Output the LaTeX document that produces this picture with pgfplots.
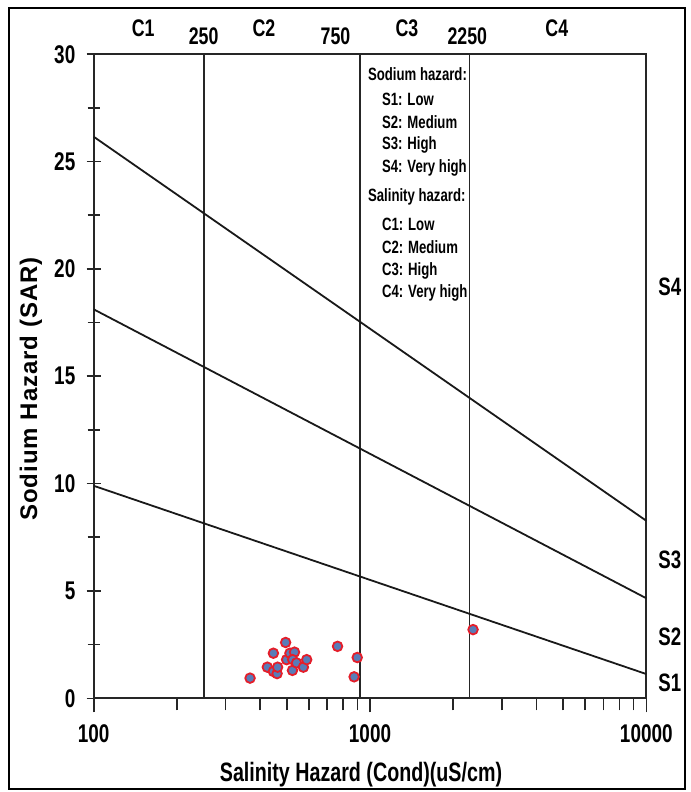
\documentclass[border=0pt]{standalone}
\usepackage{fontspec}
\setmainfont{Liberation Sans}
\newfontfamily\nb{Liberation Sans}[FakeStretch=0.74]
\usepackage{pgfplots}
\pgfplotsset{compat=1.18}
\definecolor{ptblue}{RGB}{88,124,184}
\definecolor{ptred}{RGB}{228,30,42}
\newcommand{\tlf}{\nb\bfseries\fontsize{12.8bp}{12.8bp}\selectfont}
\newcommand{\clf}{\nb\bfseries\fontsize{12bp}{12bp}\selectfont}
\newcommand{\slf}{\nb\bfseries\fontsize{12.6bp}{12.6bp}\selectfont}
\newcommand{\lgf}{\nb\bfseries\fontsize{8.9bp}{8.9bp}\selectfont}
\begin{document}
\begin{tikzpicture}
\useasboundingbox (0,0) rectangle (345.5bp,396bp);
\begin{axis}[
  xmode=log, scale only axis, width=276.3bp, height=322bp,
  at={(46.85bp,46.85bp)}, anchor=south west,
  xmin=100, xmax=10000, ymin=0, ymax=30,
  xtick={100,1000,10000}, xticklabels={100,1000,10000},
  minor xtick={200,300,400,500,600,700,800,900,2000,3000,4000,5000,6000,7000,8000,9000},
  ytick={0,5,10,15,20,25,30}, yticklabels={0,5,10,15,20,25,30},
  minor ytick={2.5,7.5,12.5,17.5,22.5,27.5},
  xtick pos=bottom, ytick pos=left,
  xtick align=outside, ytick align=center,
  major tick length=7bp, minor tick length=6bp,
  axis line style={line width=1bp, black!85},
  tick style={line width=0.8bp, black!85},
  xticklabel style={font=\tlf, inner sep=0pt, anchor=north, yshift=-6bp},
  yticklabel style={font=\tlf, inner sep=0pt, anchor=east, xshift=-5.5bp},
  clip=false,
]
\addplot[line width=0.9bp, black!85] coordinates {(250,0) (250,30)};
\addplot[line width=0.9bp, black!85] coordinates {(919,0) (919,30)};
\addplot[line width=0.9bp, black!85] coordinates {(2290,0) (2290,30)};
\addplot[line width=0.9bp, black!90] coordinates {(100,9.9) (10000,1.13)};
\addplot[line width=0.9bp, black!90] coordinates {(100,18.12) (10000,4.66)};
\addplot[line width=0.9bp, black!90] coordinates {(100,26.16) (10000,8.27)};
\addplot[only marks, mark=*, mark size=2.4bp, mark options={fill=ptblue, draw=ptred, line width=0.9bp}] coordinates {
(368,0.94) (425,1.45) (447,1.25) (461,1.15) (463,1.45) (447,2.1) (495,2.6)
(499,1.8) (513,2.1) (533,2.15) (525,1.8) (524,1.3) (542,1.65) (574,1.45)
(590,1.8) (763,2.42) (899,1.9) (876,1.0) (2360,3.2)
};
\node[font=\clf] at (axis cs:151,31.22) {C1};
\node[font=\clf] at (axis cs:250,30.85) {250};
\node[font=\clf] at (axis cs:413,31.22) {C2};
\node[font=\clf] at (axis cs:750,30.85) {750};
\node[font=\clf] at (axis cs:1360,31.22) {C3};
\node[font=\clf] at (axis cs:2250,30.85) {2250};
\node[font=\clf] at (axis cs:4744,31.22) {C4};
\node[font=\slf, anchor=west, xshift=2.5bp] at (axis cs:10000,19.16) {S4};
\node[font=\slf, anchor=west, xshift=2.5bp] at (axis cs:10000,6.45) {S3};
\node[font=\slf, anchor=west, xshift=2.5bp] at (axis cs:10000,2.87) {S2};
\node[font=\slf, anchor=west, xshift=2.5bp] at (axis cs:10000,0.71) {S1};
\end{axis}
\node[font=\lgf, anchor=west, inner sep=0pt] at (183.85bp,359bp) {Sodium hazard:};
\node[font=\lgf, anchor=west, inner sep=0pt] at (190.85bp,346.25bp) {S1: Low};
\node[font=\lgf, anchor=west, inner sep=0pt] at (190.85bp,335bp) {S2: Medium};
\node[font=\lgf, anchor=west, inner sep=0pt] at (190.85bp,323.5bp) {S3: High};
\node[font=\lgf, anchor=west, inner sep=0pt] at (190.85bp,312bp) {S4: Very high};
\node[font=\lgf, anchor=west, inner sep=0pt] at (183.85bp,297.5bp) {Salinity hazard:};
\node[font=\lgf, anchor=west, inner sep=0pt] at (190.85bp,283.75bp) {C1: Low};
\node[font=\lgf, anchor=west, inner sep=0pt] at (190.85bp,272.25bp) {C2: Medium};
\node[font=\lgf, anchor=west, inner sep=0pt] at (190.85bp,260.75bp) {C3: High};
\node[font=\lgf, anchor=west, inner sep=0pt] at (190.85bp,249.5bp) {C4: Very high};
\node[font=\nb\bfseries\fontsize{13.3bp}{13.3bp}\selectfont, inner sep=0pt] at (180.5bp,8.5bp) {Salinity Hazard (Cond)(uS/cm)};
\node[font=\bfseries\fontsize{12bp}{12bp}\selectfont\addfontfeature{LetterSpace=4}, rotate=90, anchor=base, inner sep=0pt] at (18.5bp,201.5bp) {Sodium Hazard (SAR)};
\draw[line width=1.2bp] (4.5bp,1.5bp) rectangle (342.5bp,392bp);
\end{tikzpicture}
\end{document}
